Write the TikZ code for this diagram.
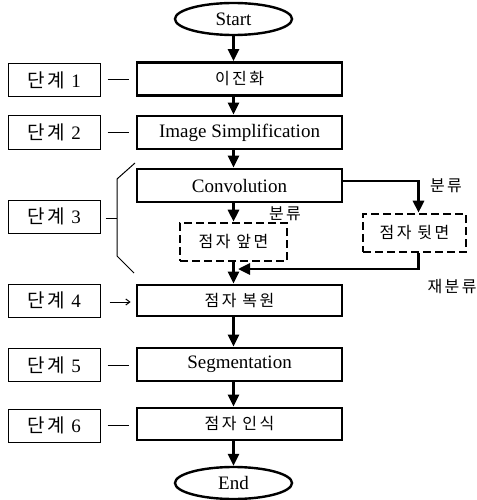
\documentclass[tikz,border=0pt]{standalone}
\usepackage{fontspec}
\setmainfont{Liberation Serif}
\newfontfamily\kr[LetterSpace=15]{Noto Sans CJK KR}
\usetikzlibrary{arrows.meta,shapes.geometric}
\begin{document}
\begin{tikzpicture}[x=1pt,y=-1pt,
  txt/.style={font=\fontsize{19}{21}\selectfont},
  ktxt/.style={font=\fontsize{16}{18}\selectfont\kr},
  proc/.style={draw,line width=2.8pt,minimum width=205pt,minimum height=33pt,inner sep=0pt},
  lab/.style={draw,line width=1pt,minimum width=92pt,minimum height=33pt,inner sep=0pt,txt},
  term/.style={draw,ellipse,line width=2.4pt,minimum width=117pt,minimum height=32pt,inner sep=0pt,txt},
  dbox/.style={draw,dash pattern=on 8pt off 4pt,line width=2.6pt,minimum height=38pt,inner sep=0pt,ktxt},
  arr/.style={line width=2.8pt,-{Triangle[length=12pt,width=11pt]}},
  thin/.style={line width=1pt},
  note/.style={inner sep=0pt,ktxt}
]
\useasboundingbox (0,0) rectangle (476,500);

% terminals
\node[term] (start) at (233.5,19) {Start};
\node[term] (end) at (233.5,483) {End};

% process boxes
\node[proc,ktxt] (b1) at (239.5,79) {이진화};
\node[proc,txt] (b2) at (239.5,132.5) {Image Simplification};
\node[proc,txt] (conv) at (239.5,185.5) {Convolution};
\node[dbox,minimum width=107pt] (front) at (233.5,242) {점자 앞면};
\node[dbox,minimum width=103pt] (back) at (414.5,233) {점자 뒷면};
\node[proc,ktxt,minimum height=31pt] (b4) at (239.5,300.5) {점자 복원};
\node[proc,txt] (b5) at (239.5,364.5) {Segmentation};
\node[proc,ktxt,minimum height=32pt] (b6) at (239.5,424) {점자 인식};

% step labels
\node[lab] (l1) at (54,80) {{\kr 단계}\,\,1};
\node[lab] (l2) at (54,132.5) {{\kr 단계}\,\,2};
\node[lab] (l3) at (54,216.5) {{\kr 단계}\,\,3};
\node[lab] (l4) at (54,300.5) {{\kr 단계}\,\,4};
\node[lab] (l5) at (54,365) {{\kr 단계}\,\,5};
\node[lab] (l6) at (54,425.5) {{\kr 단계}\,\,6};

% label connectors
\draw[thin] ([xshift=7pt]l1.east) -- ([xshift=-7pt]l1.east -| b1.west);
\draw[thin] ([xshift=7pt]l2.east) -- ([xshift=-7pt]l2.east -| b2.west);
\coordinate (br1) at (135,163);
\coordinate (br2) at (117,179);
\coordinate (br3) at (117,256);
\coordinate (br4) at (134,273);
\draw[thin] (br1) -- (br2) -- (br3) -- (br4);
\draw[thin] ([xshift=5pt,yshift=-1.5pt]l3.east) -- ([yshift=-1.5pt]l3.east -| br2);
\draw[thin,-{Straight Barb[length=4pt,width=6pt]}] ([xshift=9pt,yshift=-1.5pt]l4.east) -- ([xshift=-5pt,yshift=-1.5pt]l4.east -| b4.west);
\draw[thin] ([xshift=7pt]l5.east) -- ([xshift=-7pt]l5.east -| b5.west);
\draw[thin] ([xshift=7pt]l6.east) -- ([xshift=-7pt]l6.east -| b6.west);

% main flow
\draw[arr] (start.south) -- (start.south |- b1.north);
\draw[arr] (start.south |- b1.south) -- (start.south |- b2.north);
\draw[arr] (start.south |- b2.south) -- (start.south |- conv.north);
\draw[arr] (start.south |- conv.south) -- (front.north);
\draw[arr] ([yshift=4.5pt]conv.east) -| ([xshift=4pt]back.north);
\draw[arr] (front.south) -- (front.south |- b4.north);
\coordinate (jn) at (238,269);
\draw[arr] ([xshift=4pt]back.south) |- (jn);
\draw[arr] (start.south |- b4.south) -- (start.south |- b5.north);
\draw[arr] (start.south |- b5.south) -- (start.south |- b6.north);
\draw[arr] (start.south |- b6.south) -- (end.north);

% branch notes
\node[note] (n1) at (285,214) {분류};
\node[note] (n2) at (446,186) {분류};
\node[note] (n3) at (452,287) {재분류};
\end{tikzpicture}
\end{document}
